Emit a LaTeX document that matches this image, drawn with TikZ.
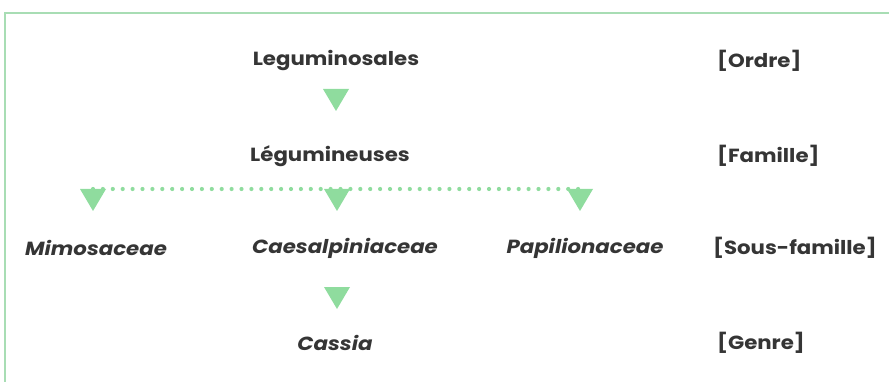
\documentclass[tikz,border=0pt]{standalone}
\usepackage{fontspec}
\setmainfont[FakeStretch=1.12]{Poppins}
\begin{document}
\begin{tikzpicture}[x=1pt,y=-1pt,
  lbl/.style={font=\fontsize{19}{23}\selectfont\bfseries, text=txt, inner sep=0pt, anchor=center},
  itl/.style={lbl, font=\fontsize{19}{23}\selectfont\bfseries\itshape},
  rank/.style={lbl, anchor=west},
  tri/.pic={\fill[green1] (-13,0) -- (13,0) -- (0,22) -- cycle;},
  dots/.style={draw=green1, line width=4.2pt, line cap=round, dash pattern=on 0pt off 9.9pt}]
\definecolor{txt}{HTML}{353535}
\definecolor{green1}{HTML}{8FDC9E}
\definecolor{frame}{HTML}{A8DDB4}
\useasboundingbox (0,0) rectangle (889,382);
\draw[frame, line width=1.5pt] (5,382) -- (5,13) -- (889,13);
% texts
\node[lbl] (ord) at (336,61) {Leguminosales};
\node[rank] (ordT) at (717,61) {[Ordre]};
\node[lbl] (fam) at (330,156) {Légumineuses};
\node[rank] (famT) at (717,156) {[Famille]};
\node[itl] (mim) at (96,248) {Mimosaceae};
\node[itl] (cae) at (345,248) {Caesalpiniaceae};
\node[itl] (pap) at (585,248) {Papilionaceae};
\node[rank] (sfT) at (713,248) {[Sous-famille]};
\node[itl] (cas) at (335,343) {Cassia};
\node[rank] (genT) at (717,343) {[Genre]};
% markers
\coordinate (t1) at (336,89);
\coordinate (t2a) at (93,189);
\coordinate (t2b) at (337,189);
\coordinate (t2c) at (580,189);
\coordinate (t3) at (337,287);
\draw[dots] (t2a) -- (t2c);
\pic at (t1) {tri};
\pic at (t2a) {tri};
\pic at (t2b) {tri};
\pic at (t2c) {tri};
\pic at (t3) {tri};
\end{tikzpicture}
\end{document}
